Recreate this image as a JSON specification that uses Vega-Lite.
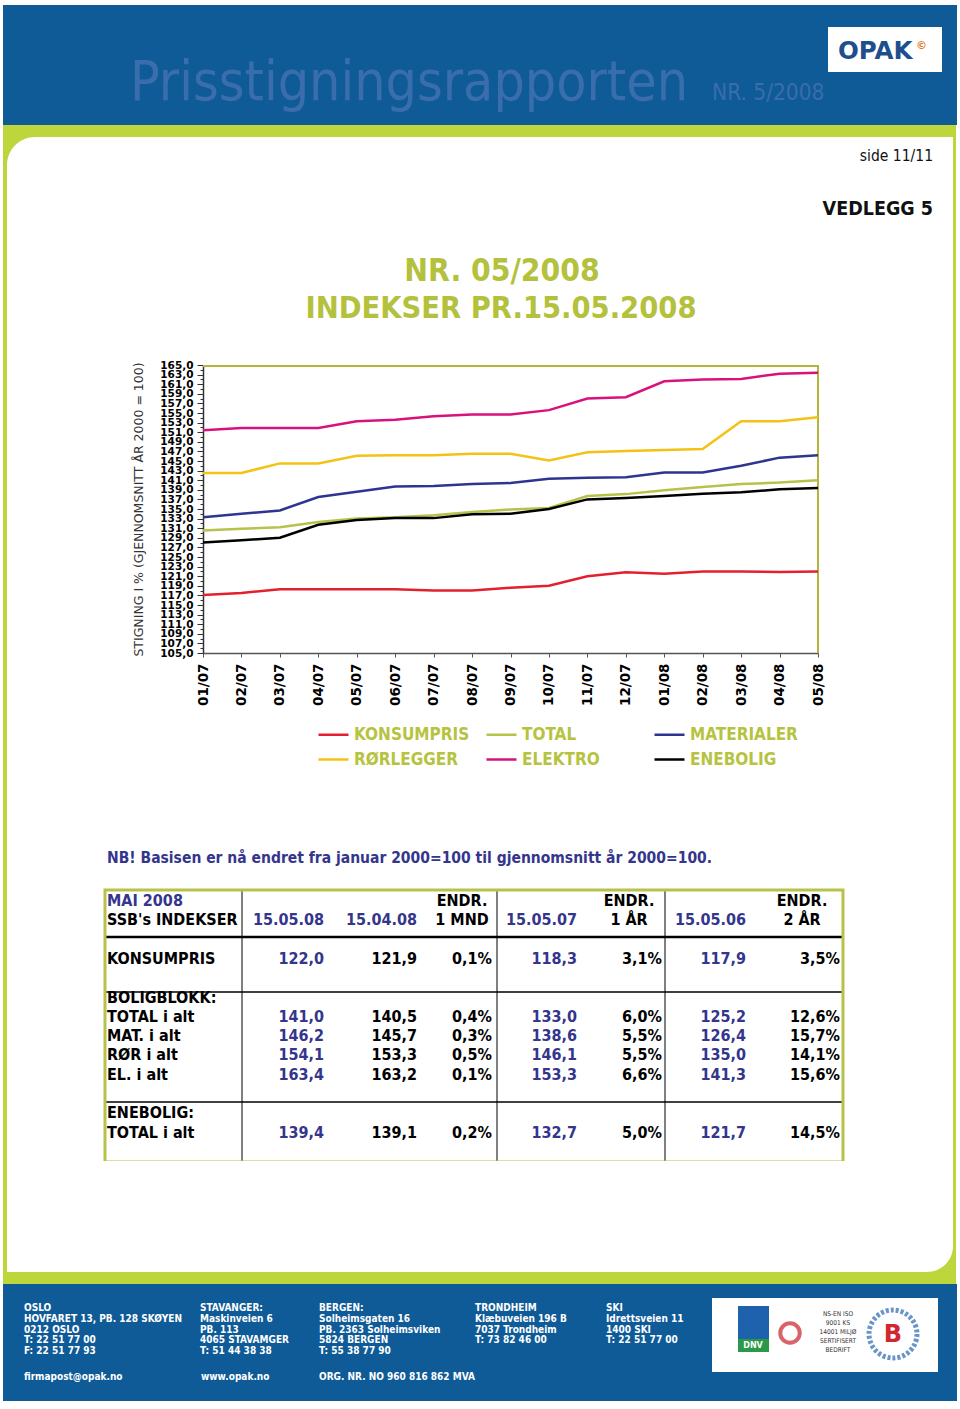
{
  "$schema": "https://vega.github.io/schema/vega-lite/v6.json",
  "background": "white",
  "padding": 0,
  "bounds": "flush",
  "spacing": 0,
  "config": {"view": {"stroke": null}, "font": "DejaVu Sans", "concat": {"spacing": 0}},
  "datasets": {
    "series": [
      {"month": "01/07", "series": "KONSUMPRIS", "value": 117.1},
      {"month": "02/07", "series": "KONSUMPRIS", "value": 117.5},
      {"month": "03/07", "series": "KONSUMPRIS", "value": 118.3},
      {"month": "04/07", "series": "KONSUMPRIS", "value": 118.3},
      {"month": "05/07", "series": "KONSUMPRIS", "value": 118.3},
      {"month": "06/07", "series": "KONSUMPRIS", "value": 118.3},
      {"month": "07/07", "series": "KONSUMPRIS", "value": 118.0},
      {"month": "08/07", "series": "KONSUMPRIS", "value": 118.0},
      {"month": "09/07", "series": "KONSUMPRIS", "value": 118.6},
      {"month": "10/07", "series": "KONSUMPRIS", "value": 119.0},
      {"month": "11/07", "series": "KONSUMPRIS", "value": 121.0},
      {"month": "12/07", "series": "KONSUMPRIS", "value": 121.8},
      {"month": "01/08", "series": "KONSUMPRIS", "value": 121.5},
      {"month": "02/08", "series": "KONSUMPRIS", "value": 122.0},
      {"month": "03/08", "series": "KONSUMPRIS", "value": 122.0},
      {"month": "04/08", "series": "KONSUMPRIS", "value": 121.9},
      {"month": "05/08", "series": "KONSUMPRIS", "value": 122.0},
      {"month": "01/07", "series": "TOTAL", "value": 130.5},
      {"month": "02/07", "series": "TOTAL", "value": 130.9},
      {"month": "03/07", "series": "TOTAL", "value": 131.2},
      {"month": "04/07", "series": "TOTAL", "value": 132.3},
      {"month": "05/07", "series": "TOTAL", "value": 133.0},
      {"month": "06/07", "series": "TOTAL", "value": 133.3},
      {"month": "07/07", "series": "TOTAL", "value": 133.7},
      {"month": "08/07", "series": "TOTAL", "value": 134.4},
      {"month": "09/07", "series": "TOTAL", "value": 134.9},
      {"month": "10/07", "series": "TOTAL", "value": 135.2},
      {"month": "11/07", "series": "TOTAL", "value": 137.7},
      {"month": "12/07", "series": "TOTAL", "value": 138.1},
      {"month": "01/08", "series": "TOTAL", "value": 138.9},
      {"month": "02/08", "series": "TOTAL", "value": 139.6},
      {"month": "03/08", "series": "TOTAL", "value": 140.2},
      {"month": "04/08", "series": "TOTAL", "value": 140.5},
      {"month": "05/08", "series": "TOTAL", "value": 141.0},
      {"month": "01/07", "series": "MATERIALER", "value": 133.3},
      {"month": "02/07", "series": "MATERIALER", "value": 134.0},
      {"month": "03/07", "series": "MATERIALER", "value": 134.7},
      {"month": "04/07", "series": "MATERIALER", "value": 137.5},
      {"month": "05/07", "series": "MATERIALER", "value": 138.6},
      {"month": "06/07", "series": "MATERIALER", "value": 139.7},
      {"month": "07/07", "series": "MATERIALER", "value": 139.8},
      {"month": "08/07", "series": "MATERIALER", "value": 140.2},
      {"month": "09/07", "series": "MATERIALER", "value": 140.4},
      {"month": "10/07", "series": "MATERIALER", "value": 141.3},
      {"month": "11/07", "series": "MATERIALER", "value": 141.5},
      {"month": "12/07", "series": "MATERIALER", "value": 141.6},
      {"month": "01/08", "series": "MATERIALER", "value": 142.6},
      {"month": "02/08", "series": "MATERIALER", "value": 142.6},
      {"month": "03/08", "series": "MATERIALER", "value": 144.0},
      {"month": "04/08", "series": "MATERIALER", "value": 145.7},
      {"month": "05/08", "series": "MATERIALER", "value": 146.2},
      {"month": "01/07", "series": "RØRLEGGER", "value": 142.5},
      {"month": "02/07", "series": "RØRLEGGER", "value": 142.5},
      {"month": "03/07", "series": "RØRLEGGER", "value": 144.5},
      {"month": "04/07", "series": "RØRLEGGER", "value": 144.5},
      {"month": "05/07", "series": "RØRLEGGER", "value": 146.1},
      {"month": "06/07", "series": "RØRLEGGER", "value": 146.2},
      {"month": "07/07", "series": "RØRLEGGER", "value": 146.2},
      {"month": "08/07", "series": "RØRLEGGER", "value": 146.5},
      {"month": "09/07", "series": "RØRLEGGER", "value": 146.5},
      {"month": "10/07", "series": "RØRLEGGER", "value": 145.1},
      {"month": "11/07", "series": "RØRLEGGER", "value": 146.8},
      {"month": "12/07", "series": "RØRLEGGER", "value": 147.1},
      {"month": "01/08", "series": "RØRLEGGER", "value": 147.3},
      {"month": "02/08", "series": "RØRLEGGER", "value": 147.5},
      {"month": "03/08", "series": "RØRLEGGER", "value": 153.3},
      {"month": "04/08", "series": "RØRLEGGER", "value": 153.3},
      {"month": "05/08", "series": "RØRLEGGER", "value": 154.1},
      {"month": "01/07", "series": "ELEKTRO", "value": 151.4},
      {"month": "02/07", "series": "ELEKTRO", "value": 151.9},
      {"month": "03/07", "series": "ELEKTRO", "value": 151.9},
      {"month": "04/07", "series": "ELEKTRO", "value": 151.9},
      {"month": "05/07", "series": "ELEKTRO", "value": 153.3},
      {"month": "06/07", "series": "ELEKTRO", "value": 153.6},
      {"month": "07/07", "series": "ELEKTRO", "value": 154.3},
      {"month": "08/07", "series": "ELEKTRO", "value": 154.7},
      {"month": "09/07", "series": "ELEKTRO", "value": 154.7},
      {"month": "10/07", "series": "ELEKTRO", "value": 155.6},
      {"month": "11/07", "series": "ELEKTRO", "value": 158.0},
      {"month": "12/07", "series": "ELEKTRO", "value": 158.3},
      {"month": "01/08", "series": "ELEKTRO", "value": 161.6},
      {"month": "02/08", "series": "ELEKTRO", "value": 162.0},
      {"month": "03/08", "series": "ELEKTRO", "value": 162.1},
      {"month": "04/08", "series": "ELEKTRO", "value": 163.2},
      {"month": "05/08", "series": "ELEKTRO", "value": 163.4},
      {"month": "01/07", "series": "ENEBOLIG", "value": 128.0},
      {"month": "02/07", "series": "ENEBOLIG", "value": 128.5},
      {"month": "03/07", "series": "ENEBOLIG", "value": 129.0},
      {"month": "04/07", "series": "ENEBOLIG", "value": 131.7},
      {"month": "05/07", "series": "ENEBOLIG", "value": 132.7},
      {"month": "06/07", "series": "ENEBOLIG", "value": 133.1},
      {"month": "07/07", "series": "ENEBOLIG", "value": 133.1},
      {"month": "08/07", "series": "ENEBOLIG", "value": 133.9},
      {"month": "09/07", "series": "ENEBOLIG", "value": 134.0},
      {"month": "10/07", "series": "ENEBOLIG", "value": 135.0},
      {"month": "11/07", "series": "ENEBOLIG", "value": 137.0},
      {"month": "12/07", "series": "ENEBOLIG", "value": 137.3},
      {"month": "01/08", "series": "ENEBOLIG", "value": 137.7},
      {"month": "02/08", "series": "ENEBOLIG", "value": 138.2},
      {"month": "03/08", "series": "ENEBOLIG", "value": 138.5},
      {"month": "04/08", "series": "ENEBOLIG", "value": 139.1},
      {"month": "05/08", "series": "ENEBOLIG", "value": 139.4}
    ],
    "table": [
      {"row": 0, "label": "MAI 2008", "d1m": "ENDR.", "d1y": "ENDR.", "d2y": "ENDR."},
      {"row": 1, "label": "SSB's INDEKSER", "v0508": "15.05.08", "v0408": "15.04.08", "d1m": "1 MND", "v0507": "15.05.07", "d1y": "1 ÅR", "v0506": "15.05.06", "d2y": "2 ÅR"},
      {"row": 3, "label": "KONSUMPRIS", "v0508": "122,0", "v0408": "121,9", "d1m": "0,1%", "v0507": "118,3", "d1y": "3,1%", "v0506": "117,9", "d2y": "3,5%"},
      {"row": 5, "label": "BOLIGBLOKK:"},
      {"row": 6, "label": "TOTAL i alt", "v0508": "141,0", "v0408": "140,5", "d1m": "0,4%", "v0507": "133,0", "d1y": "6,0%", "v0506": "125,2", "d2y": "12,6%"},
      {"row": 7, "label": "MAT. i alt", "v0508": "146,2", "v0408": "145,7", "d1m": "0,3%", "v0507": "138,6", "d1y": "5,5%", "v0506": "126,4", "d2y": "15,7%"},
      {"row": 8, "label": "RØR i alt", "v0508": "154,1", "v0408": "153,3", "d1m": "0,5%", "v0507": "146,1", "d1y": "5,5%", "v0506": "135,0", "d2y": "14,1%"},
      {"row": 9, "label": "EL. i alt", "v0508": "163,4", "v0408": "163,2", "d1m": "0,1%", "v0507": "153,3", "d1y": "6,6%", "v0506": "141,3", "d2y": "15,6%"},
      {"row": 11, "label": "ENEBOLIG:"},
      {"row": 12, "label": "TOTAL i alt", "v0508": "139,4", "v0408": "139,1", "d1m": "0,2%", "v0507": "132,7", "d1y": "5,0%", "v0506": "121,7", "d2y": "14,5%"}
    ]
  },
  "vconcat": [
    {
      "width": 960, "height": 137,
      "layer": [
        {"data": {"values": [{}]}, "mark": {"type": "rect", "color": "#0f5b98"},
         "encoding": {"x": {"datum": 3, "type": "quantitative", "scale": {"domain": [0, 960], "nice": false, "zero": false}, "axis": null}, "x2": {"datum": 957},
                      "y": {"datum": 5, "type": "quantitative", "scale": {"domain": [0, 137], "nice": false, "zero": false, "reverse": true}, "axis": null}, "y2": {"datum": 125}}},
        {"data": {"values": [{}]}, "mark": {"type": "rect", "color": "#bdd63b"},
         "encoding": {"x": {"datum": 3, "type": "quantitative", "scale": {"domain": [0, 960], "nice": false, "zero": false}, "axis": null}, "x2": {"datum": 956},
                      "y": {"datum": 125, "type": "quantitative", "scale": {"domain": [0, 137], "nice": false, "zero": false, "reverse": true}, "axis": null}, "y2": {"datum": 137}}},
        {"data": {"values": [{}]}, "mark": {"type": "rect", "color": "white"},
         "encoding": {"x": {"datum": 828, "type": "quantitative", "scale": {"domain": [0, 960], "nice": false, "zero": false}, "axis": null}, "x2": {"datum": 942},
                      "y": {"datum": 27, "type": "quantitative", "scale": {"domain": [0, 137], "nice": false, "zero": false, "reverse": true}, "axis": null}, "y2": {"datum": 72}}},
        {"data": {"values": [{"t": "Prisstigningsrapporten"}]}, "mark": {"type": "text", "align": "left", "baseline": "alphabetic", "font": "DejaVu Sans Condensed", "fontSize": 55, "color": "#3a6dab"},
         "encoding": {"x": {"datum": 130, "type": "quantitative", "scale": {"domain": [0, 960], "nice": false, "zero": false}, "axis": null},
                      "y": {"datum": 100, "type": "quantitative", "scale": {"domain": [0, 137], "nice": false, "zero": false, "reverse": true}, "axis": null}, "text": {"field": "t"}}},
        {"data": {"values": [{"t": "NR. 5/2008"}]}, "mark": {"type": "text", "align": "left", "baseline": "alphabetic", "font": "DejaVu Sans Condensed", "fontSize": 22.5, "color": "#3a6dab"},
         "encoding": {"x": {"datum": 712, "type": "quantitative", "scale": {"domain": [0, 960], "nice": false, "zero": false}, "axis": null},
                      "y": {"datum": 100, "type": "quantitative", "scale": {"domain": [0, 137], "nice": false, "zero": false, "reverse": true}, "axis": null}, "text": {"field": "t"}}},
        {"data": {"values": [{"t": "OPAK"}]}, "mark": {"type": "text", "align": "left", "baseline": "alphabetic", "font": "DejaVu Sans", "fontWeight": "bold", "fontSize": 24.5, "color": "#1d4f8e"},
         "encoding": {"x": {"datum": 838, "type": "quantitative", "scale": {"domain": [0, 960], "nice": false, "zero": false}, "axis": null},
                      "y": {"datum": 59, "type": "quantitative", "scale": {"domain": [0, 137], "nice": false, "zero": false, "reverse": true}, "axis": null}, "text": {"field": "t"}}},
        {"data": {"values": [{"t": "©"}]}, "mark": {"type": "text", "align": "left", "baseline": "alphabetic", "font": "DejaVu Sans", "fontWeight": "bold", "fontSize": 11, "color": "#e07b28"},
         "encoding": {"x": {"datum": 916, "type": "quantitative", "scale": {"domain": [0, 960], "nice": false, "zero": false}, "axis": null},
                      "y": {"datum": 49, "type": "quantitative", "scale": {"domain": [0, 137], "nice": false, "zero": false, "reverse": true}, "axis": null}, "text": {"field": "t"}}}
      ]
    },
    {
      "width": 960, "height": 228,
      "layer": [
        {"data": {"values": [{}]}, "mark": {"type": "rect", "color": "#bdd63b"},
         "encoding": {"x": {"datum": 3, "type": "quantitative", "scale": {"domain": [0, 960], "nice": false, "zero": false}, "axis": null}, "x2": {"datum": 956},
                      "y": {"datum": 137, "type": "quantitative", "scale": {"domain": [137, 365], "nice": false, "zero": false, "reverse": true}, "axis": null}, "y2": {"datum": 365}}},
        {"data": {"values": [{}]}, "mark": {"type": "rect", "color": "white", "cornerRadiusTopLeft": 28},
         "encoding": {"x": {"datum": 7, "type": "quantitative", "scale": {"domain": [0, 960], "nice": false, "zero": false}, "axis": null}, "x2": {"datum": 953},
                      "y": {"datum": 137, "type": "quantitative", "scale": {"domain": [137, 365], "nice": false, "zero": false, "reverse": true}, "axis": null}, "y2": {"datum": 366}}},
        {"data": {"values": [{"t": "side 11/11"}]}, "mark": {"type": "text", "align": "right", "baseline": "alphabetic", "font": "DejaVu Sans Condensed", "fontSize": 15.5, "color": "#111"},
         "encoding": {"x": {"datum": 933, "type": "quantitative", "scale": {"domain": [0, 960], "nice": false, "zero": false}, "axis": null},
                      "y": {"datum": 161, "type": "quantitative", "scale": {"domain": [137, 365], "nice": false, "zero": false, "reverse": true}, "axis": null}, "text": {"field": "t"}}},
        {"data": {"values": [{"t": "VEDLEGG 5"}]}, "mark": {"type": "text", "align": "right", "baseline": "alphabetic", "font": "DejaVu Sans Condensed", "fontWeight": "bold", "fontSize": 19.5, "color": "#111"},
         "encoding": {"x": {"datum": 933, "type": "quantitative", "scale": {"domain": [0, 960], "nice": false, "zero": false}, "axis": null},
                      "y": {"datum": 215, "type": "quantitative", "scale": {"domain": [137, 365], "nice": false, "zero": false, "reverse": true}, "axis": null}, "text": {"field": "t"}}},
        {"data": {"values": [{"t": "NR. 05/2008"}]}, "mark": {"type": "text", "align": "center", "baseline": "alphabetic", "font": "DejaVu Sans Condensed", "fontWeight": "bold", "fontSize": 31.5, "color": "#b3c13d"},
         "encoding": {"x": {"datum": 502, "type": "quantitative", "scale": {"domain": [0, 960], "nice": false, "zero": false}, "axis": null},
                      "y": {"datum": 281, "type": "quantitative", "scale": {"domain": [137, 365], "nice": false, "zero": false, "reverse": true}, "axis": null}, "text": {"field": "t"}}},
        {"data": {"values": [{"t": "INDEKSER PR.15.05.2008"}]}, "mark": {"type": "text", "align": "center", "baseline": "alphabetic", "font": "DejaVu Sans Condensed", "fontWeight": "bold", "fontSize": 30.5, "color": "#b3c13d"},
         "encoding": {"x": {"datum": 501, "type": "quantitative", "scale": {"domain": [0, 960], "nice": false, "zero": false}, "axis": null},
                      "y": {"datum": 318, "type": "quantitative", "scale": {"domain": [137, 365], "nice": false, "zero": false, "reverse": true}, "axis": null}, "text": {"field": "t"}}}
      ]
    },
    {
      "width": 960, "height": 288,
      "resolve": {"scale": {"x": "independent", "y": "independent"}, "axis": {"x": "independent", "y": "independent"}},
      "layer": [
        {
          "data": {"values": [{}]},
          "layer": [
            {"mark": {"type": "rect", "color": "#bdd63b"},
             "encoding": {"x": {"datum": 3, "type": "quantitative", "scale": {"domain": [0, 960], "nice": false, "zero": false}, "axis": null}, "x2": {"datum": 7},
                          "y": {"datum": 365, "type": "quantitative", "scale": {"domain": [365, 653], "nice": false, "zero": false, "reverse": true}, "axis": null}, "y2": {"datum": 653}}},
            {"mark": {"type": "rect", "color": "#bdd63b"},
             "encoding": {"x": {"datum": 953, "type": "quantitative", "scale": {"domain": [0, 960], "nice": false, "zero": false}, "axis": null}, "x2": {"datum": 956},
                          "y": {"datum": 365, "type": "quantitative", "scale": {"domain": [365, 653], "nice": false, "zero": false, "reverse": true}, "axis": null}, "y2": {"datum": 653}}},
            {"mark": {"type": "rule", "color": "#b3b63d", "strokeWidth": 2},
             "encoding": {"x": {"datum": 203, "type": "quantitative", "scale": {"domain": [0, 960], "nice": false, "zero": false}, "axis": null}, "x2": {"datum": 818},
                          "y": {"datum": 366, "type": "quantitative", "scale": {"domain": [365, 653], "nice": false, "zero": false, "reverse": true}, "axis": null}}},
            {"mark": {"type": "rule", "color": "#b3b63d", "strokeWidth": 2},
             "encoding": {"x": {"datum": 818, "type": "quantitative", "scale": {"domain": [0, 960], "nice": false, "zero": false}, "axis": null},
                          "y": {"datum": 365, "type": "quantitative", "scale": {"domain": [365, 653], "nice": false, "zero": false, "reverse": true}, "axis": null}, "y2": {"datum": 653}}}
          ]
        },
        {
          "data": {"name": "series"},
          "mark": {"type": "line", "strokeWidth": 2.5},
          "encoding": {
            "x": {"field": "month", "type": "ordinal", "sort": null, "scale": {"type": "point", "padding": 0, "range": [203, 818]},
                  "axis": {"orient": "bottom", "title": null, "labelAngle": 270, "labelFont": "DejaVu Sans", "labelFontWeight": "bold", "labelFontSize": 13.5, "labelColor": "#000", "labelPadding": 6, "tickSize": 4, "tickColor": "#555", "domainColor": "#555", "domainWidth": 1.5}},
            "y": {"field": "value", "type": "quantitative", "scale": {"domain": [105, 165], "nice": false, "zero": false},
                  "axis": {"orient": "left", "offset": -203, "title": "STIGNING I % (GJENNOMSNITT ÅR 2000 = 100)", "titleFont": "DejaVu Sans", "titleFontWeight": "normal", "titleFontSize": 12.5, "titleColor": "#333", "titlePadding": 14,
                           "values": [105,106,107,108,109,110,111,112,113,114,115,116,117,118,119,120,121,122,123,124,125,126,127,128,129,130,131,132,133,134,135,136,137,138,139,140,141,142,143,144,145,146,147,148,149,150,151,152,153,154,155,156,157,158,159,160,161,162,163,164,165],
                           "labelExpr": "datum.value % 2 == 1 ? replace(format(datum.value, '.1f'), '.', ',') : ''",
                           "labelFont": "DejaVu Sans", "labelFontWeight": "bold", "labelFontSize": 10.5, "labelColor": "#000", "labelOverlap": false, "labelFlush": false, "labelPadding": 4,
                           "tickSize": {"condition": {"test": "datum.value % 2 == 1", "value": 6}, "value": 3}, "tickColor": "#333", "domainColor": "#333", "domainWidth": 1.5, "grid": false}},
            "color": {"field": "series", "type": "nominal",
                      "scale": {"domain": ["KONSUMPRIS", "TOTAL", "MATERIALER", "RØRLEGGER", "ELEKTRO", "ENEBOLIG"], "range": ["#e3202d", "#b7c24a", "#2e3591", "#f4c215", "#d9117d", "#000000"]},
                      "legend": {"orient": "none", "legendX": 317, "legendY": 718, "direction": "horizontal", "columns": 3, "title": null, "padding": 0,
                                 "symbolType": "stroke", "symbolSize": 900, "symbolStrokeWidth": 2.5, "labelFont": "DejaVu Sans Condensed", "labelFontWeight": "bold", "labelFontSize": 17,
                                 "labelColor": "#b6c33f", "columnPadding": 11, "rowPadding": 0, "gridAlign": "all", "labelOffset": 4, "labelLimit": 300}}
          }
        }
      ]
    },
    {
      "width": 960, "height": 237,
      "layer": [
        {"data": {"values": [{}]}, "mark": {"type": "rect", "color": "#bdd63b"},
         "encoding": {"x": {"datum": 3, "type": "quantitative", "scale": {"domain": [0, 960], "nice": false, "zero": false}, "axis": null}, "x2": {"datum": 7},
                      "y": {"datum": 653, "type": "quantitative", "scale": {"domain": [653, 890], "nice": false, "zero": false, "reverse": true}, "axis": null}, "y2": {"datum": 890}}},
        {"data": {"values": [{}]}, "mark": {"type": "rect", "color": "#bdd63b"},
         "encoding": {"x": {"datum": 953, "type": "quantitative", "scale": {"domain": [0, 960], "nice": false, "zero": false}, "axis": null}, "x2": {"datum": 956},
                      "y": {"datum": 653, "type": "quantitative", "scale": {"domain": [653, 890], "nice": false, "zero": false, "reverse": true}, "axis": null}, "y2": {"datum": 890}}},
        {"data": {"values": [{"t": "NB! Basisen er nå endret fra januar 2000=100 til gjennomsnitt år 2000=100."}]}, "mark": {"type": "text", "align": "left", "baseline": "middle", "font": "DejaVu Sans Condensed", "fontWeight": "bold", "fontSize": 15.5, "color": "#34358c"},
         "encoding": {"x": {"datum": 107, "type": "quantitative", "scale": {"domain": [0, 960], "nice": false, "zero": false}, "axis": null},
                      "y": {"datum": 858, "type": "quantitative", "scale": {"domain": [653, 890], "nice": false, "zero": false, "reverse": true}, "axis": null}, "text": {"field": "t"}}}
      ]
    },
    {
      "width": 960, "height": 272,
      "data": {"name": "table"},
      "layer": [
        {"data": {"values": [{}]}, "mark": {"type": "rect", "color": "#bdd63b"},
         "encoding": {"x": {"datum": 3, "type": "quantitative", "scale": {"domain": [0, 960], "nice": false, "zero": false}, "axis": null}, "x2": {"datum": 7},
                      "y": {"datum": -0.57, "type": "quantitative", "scale": {"domain": [-0.57, 13.52], "nice": false, "zero": false, "reverse": true}, "axis": null}, "y2": {"datum": 13.52}}},
        {"data": {"values": [{}]}, "mark": {"type": "rect", "color": "#bdd63b"},
         "encoding": {"x": {"datum": 953, "type": "quantitative", "scale": {"domain": [0, 960], "nice": false, "zero": false}, "axis": null}, "x2": {"datum": 956},
                      "y": {"datum": -0.57, "type": "quantitative", "scale": {"domain": [-0.57, 13.52], "nice": false, "zero": false, "reverse": true}, "axis": null}, "y2": {"datum": 13.52}}},
        {"data": {"values": [{}]}, "mark": {"type": "rule", "color": "#000", "strokeWidth": 1},
         "encoding": {"x": {"datum": 242, "type": "quantitative", "scale": {"domain": [0, 960], "nice": false, "zero": false}, "axis": null}}},
        {"data": {"values": [{}]}, "mark": {"type": "rule", "color": "#000", "strokeWidth": 1},
         "encoding": {"x": {"datum": 497, "type": "quantitative", "scale": {"domain": [0, 960], "nice": false, "zero": false}, "axis": null}}},
        {"data": {"values": [{}]}, "mark": {"type": "rule", "color": "#000", "strokeWidth": 1},
         "encoding": {"x": {"datum": 665, "type": "quantitative", "scale": {"domain": [0, 960], "nice": false, "zero": false}, "axis": null}}},
        {"data": {"values": [{}]}, "mark": {"type": "rule", "color": "#000", "strokeWidth": 2.5},
         "encoding": {"x": {"datum": 105, "type": "quantitative", "scale": {"domain": [0, 960], "nice": false, "zero": false}, "axis": null}, "x2": {"datum": 843},
                      "y": {"datum": 1.865, "type": "quantitative", "scale": {"domain": [-0.57, 13.52], "nice": false, "zero": false, "reverse": true}, "axis": null}}},
        {"data": {"values": [{}]}, "mark": {"type": "rule", "color": "#000", "strokeWidth": 1.5},
         "encoding": {"x": {"datum": 105, "type": "quantitative", "scale": {"domain": [0, 960], "nice": false, "zero": false}, "axis": null}, "x2": {"datum": 843},
                      "y": {"datum": 4.715, "type": "quantitative", "scale": {"domain": [-0.57, 13.52], "nice": false, "zero": false, "reverse": true}, "axis": null}}},
        {"data": {"values": [{}]}, "mark": {"type": "rule", "color": "#000", "strokeWidth": 1.5},
         "encoding": {"x": {"datum": 105, "type": "quantitative", "scale": {"domain": [0, 960], "nice": false, "zero": false}, "axis": null}, "x2": {"datum": 843},
                      "y": {"datum": 10.41, "type": "quantitative", "scale": {"domain": [-0.57, 13.52], "nice": false, "zero": false, "reverse": true}, "axis": null}}},
        {"data": {"values": [{}]}, "mark": {"type": "rect", "filled": false, "stroke": "#b8c24a", "strokeWidth": 3},
         "encoding": {"x": {"datum": 105, "type": "quantitative", "scale": {"domain": [0, 960], "nice": false, "zero": false}, "axis": null}, "x2": {"datum": 843},
                      "y": {"datum": -0.57, "type": "quantitative", "scale": {"domain": [-0.57, 13.52], "nice": false, "zero": false, "reverse": true}, "axis": null}, "y2": {"datum": 13.52}}},
        {"mark": {"type": "text", "align": "left", "baseline": "middle", "font": "DejaVu Sans Condensed", "fontWeight": "bold", "fontSize": 16},
         "encoding": {"x": {"datum": 107, "type": "quantitative", "scale": {"domain": [0, 960], "nice": false, "zero": false}, "axis": null},
                      "y": {"field": "row", "type": "quantitative", "scale": {"domain": [-0.57, 13.52], "nice": false, "zero": false, "reverse": true}, "axis": null},
                      "text": {"field": "label"},
                      "color": {"condition": {"test": "datum.row == 0", "value": "#34358c"}, "value": "#000000"}}},
        {"transform": [{"filter": "isValid(datum.v0508)"}],
         "mark": {"type": "text", "align": "right", "baseline": "middle", "font": "DejaVu Sans Condensed", "fontWeight": "bold", "fontSize": 16, "color": "#34358c"},
         "encoding": {"x": {"datum": 324, "type": "quantitative", "scale": {"domain": [0, 960], "nice": false, "zero": false}, "axis": null},
                      "y": {"field": "row", "type": "quantitative", "scale": {"domain": [-0.57, 13.52], "nice": false, "zero": false, "reverse": true}, "axis": null},
                      "text": {"field": "v0508"}}},
        {"transform": [{"filter": "isValid(datum.v0408)"}],
         "mark": {"type": "text", "align": "right", "baseline": "middle", "font": "DejaVu Sans Condensed", "fontWeight": "bold", "fontSize": 16},
         "encoding": {"x": {"datum": 417, "type": "quantitative", "scale": {"domain": [0, 960], "nice": false, "zero": false}, "axis": null},
                      "y": {"field": "row", "type": "quantitative", "scale": {"domain": [-0.57, 13.52], "nice": false, "zero": false, "reverse": true}, "axis": null},
                      "text": {"field": "v0408"},
                      "color": {"condition": {"test": "datum.row == 1", "value": "#34358c"}, "value": "#000000"}}},
        {"transform": [{"filter": "isValid(datum.d1m) && datum.row > 1"}],
         "mark": {"type": "text", "align": "right", "baseline": "middle", "font": "DejaVu Sans Condensed", "fontWeight": "bold", "fontSize": 16, "color": "#000"},
         "encoding": {"x": {"datum": 492, "type": "quantitative", "scale": {"domain": [0, 960], "nice": false, "zero": false}, "axis": null},
                      "y": {"field": "row", "type": "quantitative", "scale": {"domain": [-0.57, 13.52], "nice": false, "zero": false, "reverse": true}, "axis": null},
                      "text": {"field": "d1m"}}},
        {"transform": [{"filter": "isValid(datum.d1m) && datum.row <= 1"}],
         "mark": {"type": "text", "align": "center", "baseline": "middle", "font": "DejaVu Sans Condensed", "fontWeight": "bold", "fontSize": 16, "color": "#000"},
         "encoding": {"x": {"datum": 462, "type": "quantitative", "scale": {"domain": [0, 960], "nice": false, "zero": false}, "axis": null},
                      "y": {"field": "row", "type": "quantitative", "scale": {"domain": [-0.57, 13.52], "nice": false, "zero": false, "reverse": true}, "axis": null},
                      "text": {"field": "d1m"}}},
        {"transform": [{"filter": "isValid(datum.v0507)"}],
         "mark": {"type": "text", "align": "right", "baseline": "middle", "font": "DejaVu Sans Condensed", "fontWeight": "bold", "fontSize": 16, "color": "#34358c"},
         "encoding": {"x": {"datum": 577, "type": "quantitative", "scale": {"domain": [0, 960], "nice": false, "zero": false}, "axis": null},
                      "y": {"field": "row", "type": "quantitative", "scale": {"domain": [-0.57, 13.52], "nice": false, "zero": false, "reverse": true}, "axis": null},
                      "text": {"field": "v0507"}}},
        {"transform": [{"filter": "isValid(datum.d1y) && datum.row > 1"}],
         "mark": {"type": "text", "align": "right", "baseline": "middle", "font": "DejaVu Sans Condensed", "fontWeight": "bold", "fontSize": 16, "color": "#000"},
         "encoding": {"x": {"datum": 662, "type": "quantitative", "scale": {"domain": [0, 960], "nice": false, "zero": false}, "axis": null},
                      "y": {"field": "row", "type": "quantitative", "scale": {"domain": [-0.57, 13.52], "nice": false, "zero": false, "reverse": true}, "axis": null},
                      "text": {"field": "d1y"}}},
        {"transform": [{"filter": "isValid(datum.d1y) && datum.row <= 1"}],
         "mark": {"type": "text", "align": "center", "baseline": "middle", "font": "DejaVu Sans Condensed", "fontWeight": "bold", "fontSize": 16, "color": "#000"},
         "encoding": {"x": {"datum": 629, "type": "quantitative", "scale": {"domain": [0, 960], "nice": false, "zero": false}, "axis": null},
                      "y": {"field": "row", "type": "quantitative", "scale": {"domain": [-0.57, 13.52], "nice": false, "zero": false, "reverse": true}, "axis": null},
                      "text": {"field": "d1y"}}},
        {"transform": [{"filter": "isValid(datum.v0506)"}],
         "mark": {"type": "text", "align": "right", "baseline": "middle", "font": "DejaVu Sans Condensed", "fontWeight": "bold", "fontSize": 16, "color": "#34358c"},
         "encoding": {"x": {"datum": 746, "type": "quantitative", "scale": {"domain": [0, 960], "nice": false, "zero": false}, "axis": null},
                      "y": {"field": "row", "type": "quantitative", "scale": {"domain": [-0.57, 13.52], "nice": false, "zero": false, "reverse": true}, "axis": null},
                      "text": {"field": "v0506"}}},
        {"transform": [{"filter": "isValid(datum.d2y) && datum.row > 1"}],
         "mark": {"type": "text", "align": "right", "baseline": "middle", "font": "DejaVu Sans Condensed", "fontWeight": "bold", "fontSize": 16, "color": "#000"},
         "encoding": {"x": {"datum": 840, "type": "quantitative", "scale": {"domain": [0, 960], "nice": false, "zero": false}, "axis": null},
                      "y": {"field": "row", "type": "quantitative", "scale": {"domain": [-0.57, 13.52], "nice": false, "zero": false, "reverse": true}, "axis": null},
                      "text": {"field": "d2y"}}},
        {"transform": [{"filter": "isValid(datum.d2y) && datum.row <= 1"}],
         "mark": {"type": "text", "align": "center", "baseline": "middle", "font": "DejaVu Sans Condensed", "fontWeight": "bold", "fontSize": 16, "color": "#000"},
         "encoding": {"x": {"datum": 802, "type": "quantitative", "scale": {"domain": [0, 960], "nice": false, "zero": false}, "axis": null},
                      "y": {"field": "row", "type": "quantitative", "scale": {"domain": [-0.57, 13.52], "nice": false, "zero": false, "reverse": true}, "axis": null},
                      "text": {"field": "d2y"}}}
      ]
    },
    {
      "width": 960, "height": 247,
      "layer": [
        {"data": {"values": [{}]}, "mark": {"type": "rect", "color": "#bdd63b"},
         "encoding": {"x": {"datum": 3, "type": "quantitative", "scale": {"domain": [0, 960], "nice": false, "zero": false}, "axis": null}, "x2": {"datum": 956},
                      "y": {"datum": 1162, "type": "quantitative", "scale": {"domain": [1162, 1409], "nice": false, "zero": false, "reverse": true}, "axis": null}, "y2": {"datum": 1284}}},
        {"data": {"values": [{}]}, "mark": {"type": "rect", "color": "white", "cornerRadiusBottomRight": 26},
         "encoding": {"x": {"datum": 7, "type": "quantitative", "scale": {"domain": [0, 960], "nice": false, "zero": false}, "axis": null}, "x2": {"datum": 953},
                      "y": {"datum": 1161, "type": "quantitative", "scale": {"domain": [1162, 1409], "nice": false, "zero": false, "reverse": true}, "axis": null}, "y2": {"datum": 1272}}},
        {"data": {"values": [{}]}, "mark": {"type": "rect", "color": "#0f5b98"},
         "encoding": {"x": {"datum": 3, "type": "quantitative", "scale": {"domain": [0, 960], "nice": false, "zero": false}, "axis": null}, "x2": {"datum": 957},
                      "y": {"datum": 1284, "type": "quantitative", "scale": {"domain": [1162, 1409], "nice": false, "zero": false, "reverse": true}, "axis": null}, "y2": {"datum": 1401}}},
        {"data": {"values": [{}]}, "mark": {"type": "rect", "color": "white"},
         "encoding": {"x": {"datum": 712, "type": "quantitative", "scale": {"domain": [0, 960], "nice": false, "zero": false}, "axis": null}, "x2": {"datum": 938},
                      "y": {"datum": 1298, "type": "quantitative", "scale": {"domain": [1162, 1409], "nice": false, "zero": false, "reverse": true}, "axis": null}, "y2": {"datum": 1372}}},
        {"data": {"values": [{}]}, "mark": {"type": "rect", "color": "#1e62ad"},
         "encoding": {"x": {"datum": 738, "type": "quantitative", "scale": {"domain": [0, 960], "nice": false, "zero": false}, "axis": null}, "x2": {"datum": 769},
                      "y": {"datum": 1306, "type": "quantitative", "scale": {"domain": [1162, 1409], "nice": false, "zero": false, "reverse": true}, "axis": null}, "y2": {"datum": 1339}}},
        {"data": {"values": [{}]}, "mark": {"type": "rect", "color": "#2a9a48"},
         "encoding": {"x": {"datum": 738, "type": "quantitative", "scale": {"domain": [0, 960], "nice": false, "zero": false}, "axis": null}, "x2": {"datum": 769},
                      "y": {"datum": 1339, "type": "quantitative", "scale": {"domain": [1162, 1409], "nice": false, "zero": false, "reverse": true}, "axis": null}, "y2": {"datum": 1352}}},
        {"data": {"values": [{"t": "DNV"}]}, "mark": {"type": "text", "align": "center", "baseline": "middle", "font": "DejaVu Sans", "fontWeight": "bold", "fontSize": 8, "color": "white"},
         "encoding": {"x": {"datum": 753, "type": "quantitative", "scale": {"domain": [0, 960], "nice": false, "zero": false}, "axis": null},
                      "y": {"datum": 1346, "type": "quantitative", "scale": {"domain": [1162, 1409], "nice": false, "zero": false, "reverse": true}, "axis": null}, "text": {"field": "t"}}},
        {"data": {"values": [{}]}, "mark": {"type": "point", "shape": "circle", "size": 380, "filled": false, "strokeWidth": 4, "color": "#c8232c"},
         "encoding": {"x": {"datum": 790, "type": "quantitative", "scale": {"domain": [0, 960], "nice": false, "zero": false}, "axis": null},
                      "y": {"datum": 1333, "type": "quantitative", "scale": {"domain": [1162, 1409], "nice": false, "zero": false, "reverse": true}, "axis": null}}},
        {"data": {"values": [{"t": "NS-EN ISO\n9001 KS\n14001 MILJØ\nSERTIFISERT\nBEDRIFT"}]}, "mark": {"type": "text", "align": "center", "baseline": "top", "lineBreak": "\n", "lineHeight": 9, "font": "DejaVu Sans Condensed", "fontSize": 6.5, "color": "#333"},
         "encoding": {"x": {"datum": 838, "type": "quantitative", "scale": {"domain": [0, 960], "nice": false, "zero": false}, "axis": null},
                      "y": {"datum": 1311, "type": "quantitative", "scale": {"domain": [1162, 1409], "nice": false, "zero": false, "reverse": true}, "axis": null}, "text": {"field": "t"}}},
        {"data": {"values": [{}]}, "mark": {"type": "point", "shape": "circle", "size": 2300, "filled": false, "strokeWidth": 5, "color": "#2b67b1", "strokeDash": [3, 2]},
         "encoding": {"x": {"datum": 893, "type": "quantitative", "scale": {"domain": [0, 960], "nice": false, "zero": false}, "axis": null},
                      "y": {"datum": 1334, "type": "quantitative", "scale": {"domain": [1162, 1409], "nice": false, "zero": false, "reverse": true}, "axis": null}}},
        {"data": {"values": [{"t": "B"}]}, "mark": {"type": "text", "align": "center", "baseline": "middle", "font": "DejaVu Sans", "fontWeight": "bold", "fontSize": 24, "color": "#d22630"},
         "encoding": {"x": {"datum": 893, "type": "quantitative", "scale": {"domain": [0, 960], "nice": false, "zero": false}, "axis": null},
                      "y": {"datum": 1335, "type": "quantitative", "scale": {"domain": [1162, 1409], "nice": false, "zero": false, "reverse": true}, "axis": null}, "text": {"field": "t"}}},
        {"data": {"values": [{"t": "OSLO\nHOVFARET 13, PB. 128 SKØYEN\n0212 OSLO\nT: 22 51 77 00\nF: 22 51 77 93"}]}, "mark": {"type": "text", "align": "left", "baseline": "top", "lineBreak": "\n", "lineHeight": 10.75, "font": "DejaVu Sans Condensed", "fontWeight": "bold", "fontSize": 10, "color": "white"},
         "encoding": {"x": {"datum": 24, "type": "quantitative", "scale": {"domain": [0, 960], "nice": false, "zero": false}, "axis": null},
                      "y": {"datum": 1303, "type": "quantitative", "scale": {"domain": [1162, 1409], "nice": false, "zero": false, "reverse": true}, "axis": null}, "text": {"field": "t"}}},
        {"data": {"values": [{"t": "STAVANGER:\nMaskinveien 6\nPB. 113\n4065 STAVAMGER\nT: 51 44 38 38"}]}, "mark": {"type": "text", "align": "left", "baseline": "top", "lineBreak": "\n", "lineHeight": 10.75, "font": "DejaVu Sans Condensed", "fontWeight": "bold", "fontSize": 10, "color": "white"},
         "encoding": {"x": {"datum": 200, "type": "quantitative", "scale": {"domain": [0, 960], "nice": false, "zero": false}, "axis": null},
                      "y": {"datum": 1303, "type": "quantitative", "scale": {"domain": [1162, 1409], "nice": false, "zero": false, "reverse": true}, "axis": null}, "text": {"field": "t"}}},
        {"data": {"values": [{"t": "BERGEN:\nSolheimsgaten 16\nPB. 2363 Solheimsviken\n5824 BERGEN\nT: 55 38 77 90"}]}, "mark": {"type": "text", "align": "left", "baseline": "top", "lineBreak": "\n", "lineHeight": 10.75, "font": "DejaVu Sans Condensed", "fontWeight": "bold", "fontSize": 10, "color": "white"},
         "encoding": {"x": {"datum": 319, "type": "quantitative", "scale": {"domain": [0, 960], "nice": false, "zero": false}, "axis": null},
                      "y": {"datum": 1303, "type": "quantitative", "scale": {"domain": [1162, 1409], "nice": false, "zero": false, "reverse": true}, "axis": null}, "text": {"field": "t"}}},
        {"data": {"values": [{"t": "TRONDHEIM\nKlæbuveien 196 B\n7037 Trondheim\nT: 73 82 46 00"}]}, "mark": {"type": "text", "align": "left", "baseline": "top", "lineBreak": "\n", "lineHeight": 10.75, "font": "DejaVu Sans Condensed", "fontWeight": "bold", "fontSize": 10, "color": "white"},
         "encoding": {"x": {"datum": 475, "type": "quantitative", "scale": {"domain": [0, 960], "nice": false, "zero": false}, "axis": null},
                      "y": {"datum": 1303, "type": "quantitative", "scale": {"domain": [1162, 1409], "nice": false, "zero": false, "reverse": true}, "axis": null}, "text": {"field": "t"}}},
        {"data": {"values": [{"t": "SKI\nIdrettsveien 11\n1400 SKI\nT: 22 51 77 00"}]}, "mark": {"type": "text", "align": "left", "baseline": "top", "lineBreak": "\n", "lineHeight": 10.75, "font": "DejaVu Sans Condensed", "fontWeight": "bold", "fontSize": 10, "color": "white"},
         "encoding": {"x": {"datum": 606, "type": "quantitative", "scale": {"domain": [0, 960], "nice": false, "zero": false}, "axis": null},
                      "y": {"datum": 1303, "type": "quantitative", "scale": {"domain": [1162, 1409], "nice": false, "zero": false, "reverse": true}, "axis": null}, "text": {"field": "t"}}},
        {"data": {"values": [{"t": "firmapost@opak.no"}]}, "mark": {"type": "text", "align": "left", "baseline": "top", "font": "DejaVu Sans Condensed", "fontWeight": "bold", "fontSize": 10, "color": "white"},
         "encoding": {"x": {"datum": 24, "type": "quantitative", "scale": {"domain": [0, 960], "nice": false, "zero": false}, "axis": null},
                      "y": {"datum": 1372, "type": "quantitative", "scale": {"domain": [1162, 1409], "nice": false, "zero": false, "reverse": true}, "axis": null}, "text": {"field": "t"}}},
        {"data": {"values": [{"t": "www.opak.no"}]}, "mark": {"type": "text", "align": "left", "baseline": "top", "font": "DejaVu Sans Condensed", "fontWeight": "bold", "fontSize": 10, "color": "white"},
         "encoding": {"x": {"datum": 201, "type": "quantitative", "scale": {"domain": [0, 960], "nice": false, "zero": false}, "axis": null},
                      "y": {"datum": 1372, "type": "quantitative", "scale": {"domain": [1162, 1409], "nice": false, "zero": false, "reverse": true}, "axis": null}, "text": {"field": "t"}}},
        {"data": {"values": [{"t": "ORG. NR. NO 960 816 862 MVA"}]}, "mark": {"type": "text", "align": "left", "baseline": "top", "font": "DejaVu Sans Condensed", "fontWeight": "bold", "fontSize": 10, "color": "white"},
         "encoding": {"x": {"datum": 319, "type": "quantitative", "scale": {"domain": [0, 960], "nice": false, "zero": false}, "axis": null},
                      "y": {"datum": 1372, "type": "quantitative", "scale": {"domain": [1162, 1409], "nice": false, "zero": false, "reverse": true}, "axis": null}, "text": {"field": "t"}}}
      ]
    }
  ]
}
